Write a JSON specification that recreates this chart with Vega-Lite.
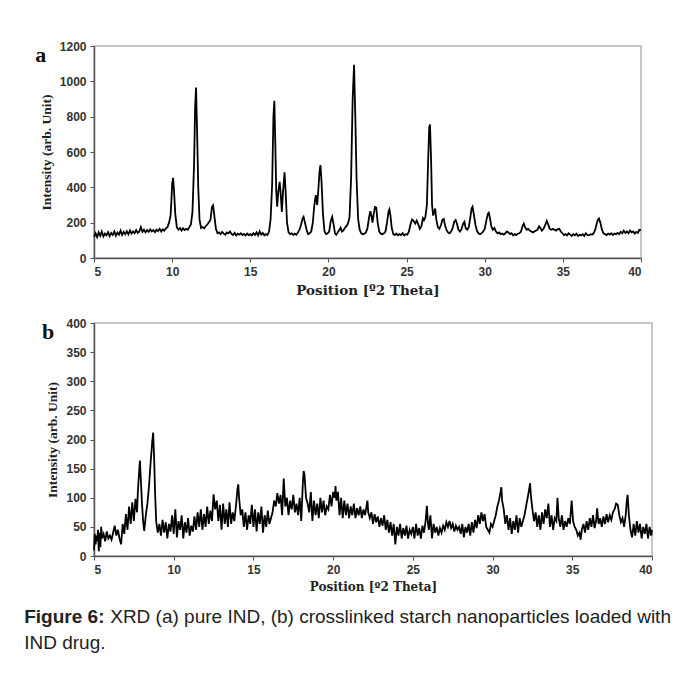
{
  "$schema": "https://vega.github.io/schema/vega-lite/v6.json",
  "padding": {"left": 24, "top": 39, "right": 5, "bottom": 5},
  "background": "white",
  "datasets": {
    "a": [
      {"t":5.0,"i":120},{"t":5.1,"i":140},{"t":5.2,"i":118},{"t":5.3,"i":145},{"t":5.4,"i":125},{"t":5.5,"i":150},{"t":5.6,"i":122},{"t":5.7,"i":138},{"t":5.8,"i":128},{"t":5.9,"i":146},
      {"t":6.0,"i":124},{"t":6.1,"i":142},{"t":6.2,"i":130},{"t":6.3,"i":150},{"t":6.4,"i":126},{"t":6.5,"i":144},{"t":6.6,"i":132},{"t":6.7,"i":155},{"t":6.8,"i":130},{"t":6.9,"i":148},
      {"t":7.0,"i":135},{"t":7.1,"i":152},{"t":7.2,"i":134},{"t":7.3,"i":156},{"t":7.4,"i":138},{"t":7.5,"i":150},{"t":7.6,"i":140},{"t":7.7,"i":158},{"t":7.8,"i":142},{"t":7.9,"i":150},
      {"t":8.0,"i":175},{"t":8.1,"i":148},{"t":8.2,"i":160},{"t":8.3,"i":145},{"t":8.4,"i":158},{"t":8.5,"i":148},{"t":8.6,"i":162},{"t":8.7,"i":150},{"t":8.8,"i":158},{"t":8.9,"i":146},
      {"t":9.0,"i":160},{"t":9.1,"i":152},{"t":9.2,"i":165},{"t":9.3,"i":150},{"t":9.4,"i":162},{"t":9.5,"i":155},{"t":9.6,"i":168},{"t":9.7,"i":175},{"t":9.8,"i":200},{"t":9.9,"i":240},
      {"t":9.95,"i":320},{"t":10.0,"i":420},{"t":10.06,"i":454},{"t":10.12,"i":380},{"t":10.2,"i":250},{"t":10.3,"i":175},{"t":10.4,"i":160},{"t":10.5,"i":170},{"t":10.6,"i":155},{"t":10.7,"i":168},
      {"t":10.8,"i":158},{"t":10.9,"i":165},{"t":11.0,"i":160},{"t":11.1,"i":175},{"t":11.2,"i":190},{"t":11.3,"i":260},{"t":11.4,"i":520},{"t":11.47,"i":850},{"t":11.53,"i":965},{"t":11.6,"i":700},
      {"t":11.67,"i":400},{"t":11.75,"i":220},{"t":11.85,"i":170},{"t":11.95,"i":175},{"t":12.05,"i":168},{"t":12.15,"i":180},{"t":12.3,"i":195},{"t":12.45,"i":215},{"t":12.55,"i":290},{"t":12.62,"i":298},
      {"t":12.7,"i":240},{"t":12.8,"i":165},{"t":12.9,"i":140},{"t":13.0,"i":145},{"t":13.1,"i":135},{"t":13.2,"i":148},{"t":13.3,"i":138},{"t":13.4,"i":132},{"t":13.5,"i":145},{"t":13.6,"i":140},
      {"t":13.7,"i":150},{"t":13.8,"i":136},{"t":13.9,"i":130},{"t":14.0,"i":142},{"t":14.1,"i":128},{"t":14.2,"i":138},{"t":14.3,"i":132},{"t":14.4,"i":140},{"t":14.5,"i":130},{"t":14.6,"i":136},
      {"t":14.7,"i":128},{"t":14.8,"i":138},{"t":14.9,"i":130},{"t":15.0,"i":135},{"t":15.1,"i":128},{"t":15.2,"i":140},{"t":15.3,"i":130},{"t":15.4,"i":145},{"t":15.5,"i":128},{"t":15.6,"i":150},
      {"t":15.7,"i":132},{"t":15.8,"i":142},{"t":15.9,"i":128},{"t":16.0,"i":135},{"t":16.1,"i":130},{"t":16.2,"i":150},{"t":16.3,"i":220},{"t":16.4,"i":420},{"t":16.48,"i":800},{"t":16.54,"i":890},
      {"t":16.6,"i":650},{"t":16.66,"i":380},{"t":16.72,"i":290},{"t":16.8,"i":380},{"t":16.88,"i":431},{"t":16.95,"i":360},{"t":17.02,"i":260},{"t":17.1,"i":380},{"t":17.19,"i":485},{"t":17.26,"i":380},
      {"t":17.35,"i":200},{"t":17.45,"i":145},{"t":17.55,"i":135},{"t":17.65,"i":140},{"t":17.75,"i":130},{"t":17.85,"i":138},{"t":17.95,"i":132},{"t":18.05,"i":145},{"t":18.15,"i":160},{"t":18.25,"i":190},
      {"t":18.35,"i":225},{"t":18.41,"i":233},{"t":18.5,"i":200},{"t":18.6,"i":160},{"t":18.7,"i":135},{"t":18.8,"i":140},{"t":18.9,"i":150},{"t":19.0,"i":200},{"t":19.1,"i":300},{"t":19.19,"i":356},
      {"t":19.28,"i":300},{"t":19.35,"i":380},{"t":19.43,"i":490},{"t":19.49,"i":526},{"t":19.56,"i":430},{"t":19.65,"i":250},{"t":19.75,"i":150},{"t":19.85,"i":135},{"t":19.95,"i":140},{"t":20.05,"i":150},
      {"t":20.15,"i":210},{"t":20.24,"i":233},{"t":20.33,"i":190},{"t":20.42,"i":140},{"t":20.5,"i":132},{"t":20.6,"i":145},{"t":20.7,"i":160},{"t":20.78,"i":172},{"t":20.86,"i":150},{"t":20.95,"i":155},
      {"t":21.05,"i":170},{"t":21.15,"i":180},{"t":21.25,"i":195},{"t":21.35,"i":230},{"t":21.45,"i":450},{"t":21.55,"i":900},{"t":21.64,"i":1094},{"t":21.72,"i":800},{"t":21.8,"i":450},{"t":21.9,"i":220},
      {"t":22.0,"i":160},{"t":22.1,"i":140},{"t":22.2,"i":135},{"t":22.3,"i":138},{"t":22.4,"i":145},{"t":22.5,"i":170},{"t":22.6,"i":230},{"t":22.68,"i":265},{"t":22.75,"i":240},{"t":22.82,"i":200},
      {"t":22.9,"i":250},{"t":22.98,"i":288},{"t":23.06,"i":285},{"t":23.15,"i":200},{"t":23.25,"i":150},{"t":23.35,"i":138},{"t":23.45,"i":135},{"t":23.55,"i":140},{"t":23.65,"i":150},{"t":23.75,"i":200},
      {"t":23.85,"i":265},{"t":23.9,"i":275},{"t":23.97,"i":240},{"t":24.05,"i":170},{"t":24.15,"i":135},{"t":24.25,"i":130},{"t":24.35,"i":138},{"t":24.45,"i":128},{"t":24.55,"i":135},{"t":24.65,"i":130},
      {"t":24.75,"i":140},{"t":24.85,"i":128},{"t":24.95,"i":135},{"t":25.05,"i":132},{"t":25.15,"i":150},{"t":25.25,"i":190},{"t":25.35,"i":218},{"t":25.45,"i":210},{"t":25.55,"i":195},{"t":25.65,"i":212},
      {"t":25.75,"i":190},{"t":25.85,"i":165},{"t":25.95,"i":180},{"t":26.05,"i":225},{"t":26.12,"i":215},{"t":26.2,"i":230},{"t":26.3,"i":300},{"t":26.38,"i":550},{"t":26.45,"i":740},{"t":26.5,"i":755},
      {"t":26.57,"i":550},{"t":26.63,"i":300},{"t":26.7,"i":240},{"t":26.78,"i":265},{"t":26.83,"i":280},{"t":26.9,"i":220},{"t":27.0,"i":175},{"t":27.1,"i":165},{"t":27.2,"i":185},{"t":27.3,"i":218},
      {"t":27.38,"i":222},{"t":27.46,"i":185},{"t":27.55,"i":160},{"t":27.65,"i":145},{"t":27.75,"i":140},{"t":27.85,"i":150},{"t":27.95,"i":170},{"t":28.05,"i":205},{"t":28.14,"i":215},{"t":28.22,"i":195},
      {"t":28.32,"i":160},{"t":28.42,"i":150},{"t":28.52,"i":165},{"t":28.62,"i":195},{"t":28.7,"i":205},{"t":28.78,"i":170},{"t":28.88,"i":160},{"t":28.98,"i":175},{"t":29.08,"i":230},{"t":29.16,"i":280},
      {"t":29.22,"i":290},{"t":29.3,"i":250},{"t":29.4,"i":190},{"t":29.5,"i":155},{"t":29.6,"i":140},{"t":29.7,"i":135},{"t":29.8,"i":140},{"t":29.9,"i":150},{"t":30.0,"i":165},{"t":30.1,"i":210},
      {"t":30.2,"i":250},{"t":30.26,"i":256},{"t":30.34,"i":225},{"t":30.42,"i":180},{"t":30.52,"i":160},{"t":30.62,"i":170},{"t":30.72,"i":150},{"t":30.82,"i":140},{"t":30.92,"i":145},{"t":31.02,"i":135},
      {"t":31.12,"i":138},{"t":31.22,"i":132},{"t":31.32,"i":140},{"t":31.42,"i":150},{"t":31.52,"i":145},{"t":31.62,"i":135},{"t":31.72,"i":140},{"t":31.82,"i":128},{"t":31.92,"i":135},{"t":32.02,"i":130},
      {"t":32.12,"i":138},{"t":32.22,"i":140},{"t":32.32,"i":150},{"t":32.42,"i":180},{"t":32.5,"i":195},{"t":32.58,"i":175},{"t":32.68,"i":160},{"t":32.78,"i":165},{"t":32.88,"i":155},{"t":32.98,"i":150},
      {"t":33.08,"i":145},{"t":33.18,"i":150},{"t":33.28,"i":155},{"t":33.38,"i":160},{"t":33.48,"i":180},{"t":33.56,"i":170},{"t":33.66,"i":155},{"t":33.76,"i":165},{"t":33.86,"i":185},{"t":33.97,"i":210},
      {"t":34.06,"i":190},{"t":34.16,"i":165},{"t":34.26,"i":160},{"t":34.36,"i":165},{"t":34.46,"i":160},{"t":34.56,"i":155},{"t":34.66,"i":162},{"t":34.77,"i":165},{"t":34.87,"i":150},{"t":34.97,"i":140},
      {"t":35.07,"i":130},{"t":35.17,"i":135},{"t":35.27,"i":128},{"t":35.37,"i":140},{"t":35.47,"i":132},{"t":35.57,"i":125},{"t":35.67,"i":135},{"t":35.77,"i":128},{"t":35.87,"i":138},{"t":35.97,"i":125},
      {"t":36.07,"i":132},{"t":36.17,"i":128},{"t":36.27,"i":135},{"t":36.37,"i":125},{"t":36.47,"i":140},{"t":36.57,"i":130},{"t":36.67,"i":128},{"t":36.77,"i":135},{"t":36.87,"i":132},{"t":36.97,"i":140},
      {"t":37.07,"i":160},{"t":37.17,"i":195},{"t":37.25,"i":218},{"t":37.31,"i":224},{"t":37.4,"i":200},{"t":37.5,"i":160},{"t":37.6,"i":140},{"t":37.7,"i":135},{"t":37.8,"i":130},{"t":37.9,"i":138},
      {"t":38.0,"i":132},{"t":38.1,"i":140},{"t":38.2,"i":130},{"t":38.3,"i":138},{"t":38.4,"i":135},{"t":38.5,"i":142},{"t":38.6,"i":135},{"t":38.7,"i":148},{"t":38.8,"i":140},{"t":38.9,"i":155},
      {"t":39.0,"i":142},{"t":39.1,"i":150},{"t":39.2,"i":140},{"t":39.3,"i":155},{"t":39.4,"i":145},{"t":39.5,"i":150},{"t":39.6,"i":138},{"t":39.7,"i":148},{"t":39.8,"i":142},{"t":39.9,"i":160},{"t":40.0,"i":158}
    ],
    "b": [
      {"t":5.0,"i":10},{"t":5.05,"i":38},{"t":5.1,"i":20},{"t":5.15,"i":35},{"t":5.2,"i":25},{"t":5.25,"i":45},{"t":5.3,"i":8},{"t":5.35,"i":40},{"t":5.4,"i":15},{"t":5.45,"i":50},
      {"t":5.5,"i":30},{"t":5.6,"i":38},{"t":5.7,"i":25},{"t":5.8,"i":42},{"t":5.9,"i":30},{"t":6.0,"i":35},{"t":6.1,"i":28},{"t":6.2,"i":40},{"t":6.3,"i":52},{"t":6.4,"i":35},
      {"t":6.5,"i":45},{"t":6.6,"i":30},{"t":6.7,"i":20},{"t":6.8,"i":55},{"t":6.9,"i":38},{"t":7.0,"i":72},{"t":7.1,"i":45},{"t":7.2,"i":85},{"t":7.3,"i":55},{"t":7.4,"i":92},
      {"t":7.5,"i":60},{"t":7.6,"i":98},{"t":7.7,"i":75},{"t":7.75,"i":110},{"t":7.82,"i":140},{"t":7.88,"i":164},{"t":7.94,"i":130},{"t":8.0,"i":95},{"t":8.08,"i":60},{"t":8.15,"i":43},
      {"t":8.25,"i":70},{"t":8.35,"i":90},{"t":8.45,"i":120},{"t":8.55,"i":160},{"t":8.65,"i":195},{"t":8.71,"i":212},{"t":8.77,"i":170},{"t":8.83,"i":110},{"t":8.9,"i":60},{"t":9.0,"i":40},
      {"t":9.1,"i":55},{"t":9.2,"i":35},{"t":9.3,"i":62},{"t":9.4,"i":40},{"t":9.5,"i":58},{"t":9.6,"i":30},{"t":9.7,"i":55},{"t":9.8,"i":42},{"t":9.9,"i":70},{"t":10.0,"i":38},
      {"t":10.1,"i":80},{"t":10.2,"i":32},{"t":10.3,"i":60},{"t":10.4,"i":45},{"t":10.5,"i":70},{"t":10.6,"i":30},{"t":10.7,"i":58},{"t":10.8,"i":40},{"t":10.9,"i":65},{"t":11.0,"i":35},
      {"t":11.1,"i":52},{"t":11.2,"i":42},{"t":11.3,"i":68},{"t":11.4,"i":45},{"t":11.5,"i":75},{"t":11.6,"i":50},{"t":11.7,"i":80},{"t":11.8,"i":45},{"t":11.9,"i":72},{"t":12.0,"i":50},
      {"t":12.1,"i":85},{"t":12.2,"i":55},{"t":12.3,"i":78},{"t":12.4,"i":60},{"t":12.5,"i":106},{"t":12.6,"i":80},{"t":12.7,"i":95},{"t":12.8,"i":60},{"t":12.9,"i":88},{"t":13.0,"i":45},
      {"t":13.1,"i":90},{"t":13.2,"i":55},{"t":13.3,"i":80},{"t":13.4,"i":50},{"t":13.5,"i":92},{"t":13.6,"i":55},{"t":13.7,"i":75},{"t":13.8,"i":60},{"t":13.9,"i":85},{"t":14.0,"i":115},
      {"t":14.05,"i":123},{"t":14.1,"i":100},{"t":14.2,"i":70},{"t":14.3,"i":80},{"t":14.4,"i":50},{"t":14.5,"i":75},{"t":14.6,"i":45},{"t":14.7,"i":70},{"t":14.8,"i":55},{"t":14.9,"i":88},
      {"t":15.0,"i":50},{"t":15.1,"i":80},{"t":15.2,"i":42},{"t":15.3,"i":75},{"t":15.4,"i":55},{"t":15.5,"i":85},{"t":15.6,"i":40},{"t":15.7,"i":70},{"t":15.8,"i":50},{"t":15.9,"i":78},
      {"t":16.0,"i":55},{"t":16.1,"i":65},{"t":16.2,"i":75},{"t":16.3,"i":95},{"t":16.4,"i":85},{"t":16.5,"i":108},{"t":16.6,"i":90},{"t":16.7,"i":105},{"t":16.8,"i":70},{"t":16.9,"i":133},
      {"t":17.0,"i":85},{"t":17.1,"i":100},{"t":17.2,"i":70},{"t":17.3,"i":95},{"t":17.4,"i":80},{"t":17.5,"i":105},{"t":17.6,"i":75},{"t":17.7,"i":90},{"t":17.8,"i":70},{"t":17.9,"i":100},
      {"t":18.0,"i":60},{"t":18.1,"i":125},{"t":18.15,"i":146},{"t":18.2,"i":140},{"t":18.3,"i":100},{"t":18.4,"i":90},{"t":18.5,"i":75},{"t":18.6,"i":110},{"t":18.7,"i":60},{"t":18.8,"i":95},
      {"t":18.9,"i":70},{"t":19.0,"i":90},{"t":19.1,"i":65},{"t":19.2,"i":100},{"t":19.3,"i":75},{"t":19.4,"i":95},{"t":19.5,"i":70},{"t":19.6,"i":85},{"t":19.7,"i":80},{"t":19.8,"i":105},
      {"t":19.9,"i":85},{"t":20.0,"i":110},{"t":20.1,"i":100},{"t":20.15,"i":120},{"t":20.2,"i":95},{"t":20.3,"i":110},{"t":20.4,"i":70},{"t":20.5,"i":100},{"t":20.6,"i":65},{"t":20.7,"i":95},
      {"t":20.8,"i":70},{"t":20.9,"i":90},{"t":21.0,"i":65},{"t":21.1,"i":85},{"t":21.2,"i":70},{"t":21.3,"i":90},{"t":21.4,"i":65},{"t":21.5,"i":82},{"t":21.6,"i":70},{"t":21.7,"i":85},
      {"t":21.8,"i":65},{"t":21.9,"i":80},{"t":22.0,"i":70},{"t":22.15,"i":95},{"t":22.2,"i":75},{"t":22.3,"i":65},{"t":22.4,"i":75},{"t":22.5,"i":55},{"t":22.6,"i":72},{"t":22.7,"i":58},
      {"t":22.8,"i":68},{"t":22.9,"i":50},{"t":23.0,"i":65},{"t":23.1,"i":52},{"t":23.2,"i":70},{"t":23.3,"i":45},{"t":23.4,"i":62},{"t":23.5,"i":40},{"t":23.6,"i":58},{"t":23.7,"i":35},
      {"t":23.8,"i":55},{"t":23.9,"i":20},{"t":24.0,"i":50},{"t":24.1,"i":35},{"t":24.2,"i":55},{"t":24.3,"i":30},{"t":24.4,"i":48},{"t":24.5,"i":35},{"t":24.6,"i":52},{"t":24.7,"i":30},
      {"t":24.8,"i":45},{"t":24.9,"i":38},{"t":25.0,"i":50},{"t":25.1,"i":30},{"t":25.2,"i":55},{"t":25.3,"i":35},{"t":25.4,"i":48},{"t":25.5,"i":30},{"t":25.6,"i":52},{"t":25.7,"i":40},
      {"t":25.8,"i":60},{"t":25.88,"i":86},{"t":25.95,"i":55},{"t":26.0,"i":45},{"t":26.1,"i":70},{"t":26.2,"i":30},{"t":26.3,"i":55},{"t":26.4,"i":40},{"t":26.5,"i":50},{"t":26.6,"i":35},
      {"t":26.7,"i":48},{"t":26.8,"i":40},{"t":26.9,"i":52},{"t":27.0,"i":45},{"t":27.1,"i":58},{"t":27.2,"i":50},{"t":27.3,"i":60},{"t":27.4,"i":48},{"t":27.5,"i":55},{"t":27.6,"i":42},
      {"t":27.7,"i":52},{"t":27.8,"i":45},{"t":27.9,"i":50},{"t":28.0,"i":38},{"t":28.1,"i":55},{"t":28.2,"i":32},{"t":28.3,"i":50},{"t":28.4,"i":40},{"t":28.5,"i":55},{"t":28.6,"i":35},
      {"t":28.7,"i":58},{"t":28.8,"i":40},{"t":28.9,"i":62},{"t":29.0,"i":48},{"t":29.1,"i":70},{"t":29.2,"i":55},{"t":29.3,"i":75},{"t":29.4,"i":60},{"t":29.5,"i":72},{"t":29.6,"i":50},
      {"t":29.7,"i":45},{"t":29.8,"i":40},{"t":29.9,"i":55},{"t":30.0,"i":50},{"t":30.1,"i":60},{"t":30.2,"i":70},{"t":30.3,"i":85},{"t":30.4,"i":95},{"t":30.5,"i":110},{"t":30.55,"i":118},
      {"t":30.6,"i":95},{"t":30.7,"i":80},{"t":30.8,"i":55},{"t":30.9,"i":70},{"t":31.0,"i":45},{"t":31.1,"i":65},{"t":31.2,"i":38},{"t":31.3,"i":60},{"t":31.4,"i":45},{"t":31.5,"i":70},
      {"t":31.6,"i":40},{"t":31.7,"i":65},{"t":31.8,"i":50},{"t":31.9,"i":60},{"t":32.0,"i":70},{"t":32.1,"i":85},{"t":32.2,"i":100},{"t":32.3,"i":115},{"t":32.35,"i":125},{"t":32.4,"i":105},
      {"t":32.5,"i":80},{"t":32.6,"i":60},{"t":32.7,"i":75},{"t":32.8,"i":50},{"t":32.9,"i":70},{"t":33.0,"i":45},{"t":33.1,"i":75},{"t":33.2,"i":55},{"t":33.3,"i":80},{"t":33.4,"i":65},
      {"t":33.5,"i":90},{"t":33.6,"i":50},{"t":33.7,"i":70},{"t":33.8,"i":45},{"t":33.9,"i":65},{"t":34.0,"i":60},{"t":34.07,"i":100},{"t":34.15,"i":65},{"t":34.25,"i":50},{"t":34.35,"i":70},
      {"t":34.45,"i":45},{"t":34.55,"i":60},{"t":34.65,"i":50},{"t":34.75,"i":65},{"t":34.85,"i":55},{"t":34.96,"i":95},{"t":35.05,"i":60},{"t":35.15,"i":50},{"t":35.25,"i":45},{"t":35.35,"i":35},
      {"t":35.45,"i":40},{"t":35.52,"i":28},{"t":35.6,"i":45},{"t":35.7,"i":55},{"t":35.8,"i":40},{"t":35.9,"i":60},{"t":36.0,"i":45},{"t":36.1,"i":65},{"t":36.2,"i":50},{"t":36.3,"i":70},
      {"t":36.4,"i":48},{"t":36.5,"i":62},{"t":36.56,"i":82},{"t":36.65,"i":55},{"t":36.75,"i":65},{"t":36.85,"i":50},{"t":36.95,"i":68},{"t":37.05,"i":55},{"t":37.15,"i":72},{"t":37.25,"i":58},
      {"t":37.35,"i":70},{"t":37.45,"i":62},{"t":37.55,"i":75},{"t":37.65,"i":80},{"t":37.75,"i":90},{"t":37.85,"i":88},{"t":37.95,"i":70},{"t":38.05,"i":58},{"t":38.15,"i":65},{"t":38.25,"i":50},
      {"t":38.35,"i":70},{"t":38.42,"i":95},{"t":38.47,"i":105},{"t":38.55,"i":70},{"t":38.65,"i":45},{"t":38.75,"i":32},{"t":38.85,"i":55},{"t":38.95,"i":35},{"t":39.05,"i":60},{"t":39.15,"i":40},
      {"t":39.25,"i":55},{"t":39.35,"i":30},{"t":39.45,"i":50},{"t":39.55,"i":38},{"t":39.65,"i":55},{"t":39.75,"i":30},{"t":39.85,"i":50},{"t":39.95,"i":35},{"t":40.0,"i":45}
    ]
  },
  "title": {
    "text": "XRD (a) pure IND, (b) crosslinked starch nanoparticles loaded with",
    "orient": "bottom",
    "anchor": "start",
    "frame": "bounds",
    "font": "Liberation Sans",
    "fontSize": 19,
    "fontWeight": "normal",
    "color": "#222222",
    "offset": -45,
    "dx": 86
  },
  "spacing": 18,
  "vconcat": [
    {
      "width": 547,
      "height": 212,
      "data": {"name": "a"},
      "title": {"text": "a", "anchor": "start", "frame": "bounds", "font": "Liberation Serif", "fontSize": 22, "fontWeight": "bold", "color": "#111111", "baseline": "alphabetic", "offset": 0, "dy": 44, "dx": -4},
      "mark": {"type": "line", "color": "#000000", "strokeWidth": 1.8},
      "encoding": {
        "x": {"field": "t", "type": "quantitative", "scale": {"domain": [5, 40], "nice": false},
              "axis": {"values": [5, 10, 15, 20, 25, 30, 35, 40], "title": "Position [º2 Theta]", "titleFontSize": 13.5}},
        "y": {"field": "i", "type": "quantitative", "scale": {"domain": [0, 1200], "nice": false},
              "axis": {"values": [0, 200, 400, 600, 800, 1000, 1200], "format": "d", "title": "Intensity (arb. Unit)"}}
      }
    },
    {
      "title": {
        "text": "Figure 6:",
        "subtitle": "IND drug.",
        "orient": "bottom",
        "anchor": "start",
        "frame": "bounds",
        "font": "Liberation Sans",
        "fontSize": 19,
        "fontWeight": "bold",
        "color": "#222222",
        "subtitleFont": "Liberation Sans",
        "subtitleFontSize": 19,
        "subtitleFontWeight": "normal",
        "subtitleColor": "#222222",
        "subtitlePadding": 7,
        "offset": 15,
        "dx": -17
      },
      "vconcat": [
        {
          "width": 558,
          "height": 233,
          "data": {"name": "b"},
          "title": {"text": "b", "anchor": "start", "frame": "bounds", "font": "Liberation Serif", "fontSize": 22, "fontWeight": "bold", "color": "#111111", "baseline": "alphabetic", "offset": 0, "dy": 44, "dx": -4},
          "mark": {"type": "line", "color": "#000000", "strokeWidth": 1.8},
          "encoding": {
            "x": {"field": "t", "type": "quantitative", "scale": {"domain": [5, 40], "nice": false},
                  "axis": {"values": [5, 10, 15, 20, 25, 30, 35, 40], "title": "Position [º2 Theta]", "titleFontSize": 12}},
            "y": {"field": "i", "type": "quantitative", "scale": {"domain": [0, 400], "nice": false},
                  "axis": {"values": [0, 50, 100, 150, 200, 250, 300, 350, 400], "format": "d", "title": "Intensity (arb. Unit)"}}
          }
        }
      ]
    }
  ],
  "config": {
    "view": {"stroke": "#b5b5b5", "strokeWidth": 1.5},
    "axis": {
      "grid": false,
      "labelFont": "Liberation Sans",
      "labelFontWeight": "bold",
      "labelFontSize": 12,
      "labelColor": "#333333",
      "labelPadding": 4,
      "titleFont": "DejaVu Serif",
      "titleFontWeight": "bold",
      "titleFontSize": 13,
      "titleColor": "#222222",
      "domainColor": "#555555",
      "domainWidth": 1.5,
      "tickColor": "#555555",
      "tickSize": 4,
      "titlePadding": 6
    },
    "axisY": {"titleFont": "Liberation Serif", "titleFontSize": 13.5, "titlePadding": 6}
  }
}
